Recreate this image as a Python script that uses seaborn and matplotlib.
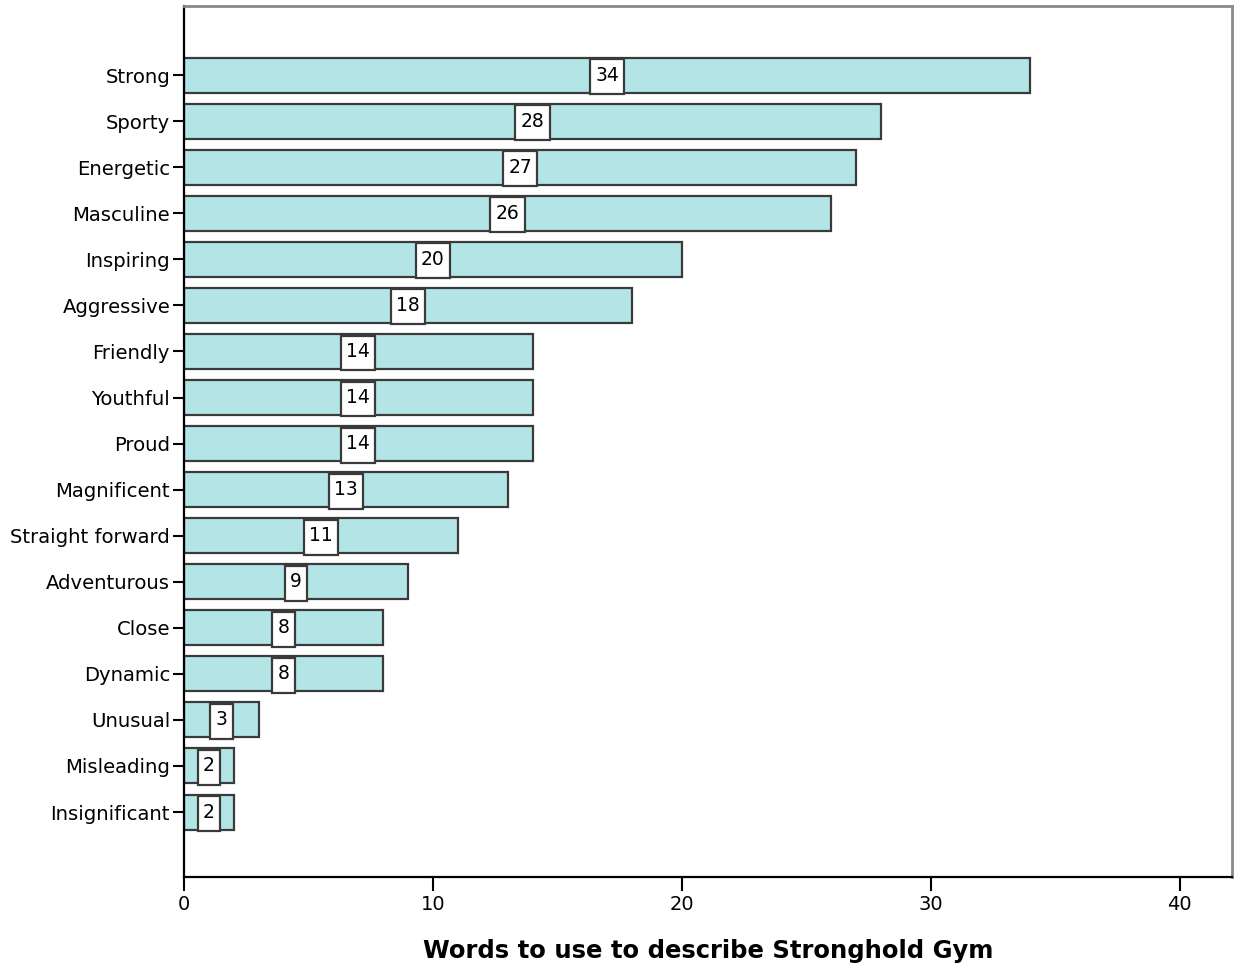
import matplotlib
matplotlib.use("Agg")
import matplotlib.pyplot as plt
from matplotlib.path import Path
import seaborn as sns
import pandas as pd

words = ["Strong", "Sporty", "Energetic", "Masculine", "Inspiring", "Aggressive",
         "Friendly", "Youthful", "Proud", "Magnificent", "Straight forward",
         "Adventurous", "Close", "Dynamic", "Unusual", "Misleading", "Insignificant"]
counts = [34, 28, 27, 26, 20, 18, 14, 14, 14, 13, 11, 9, 8, 8, 3, 2, 2]
x_ticks = [0, 10, 20, 30, 40]
x_title = "Words to use to describe Stronghold Gym"

BAR_FILL = "#b3e5e6"
BAR_EDGE = "#3a3a3a"
FRAME_GREY = "#8a8a8a"

sns.set_style("white")
plt.rcParams["font.family"] = ["DejaVu Sans"]
plt.rcParams["text.color"] = "black"
plt.rcParams["axes.labelcolor"] = "black"
plt.rcParams["xtick.color"] = "black"
plt.rcParams["ytick.color"] = "black"

df = pd.DataFrame({"word": words, "count": counts})

fig = plt.figure(figsize=(12.34, 9.69), dpi=100)
ax = fig.add_axes([184 / 1234, 1 - 877 / 969, (1232 - 184) / 1234, (877 - 6) / 969])

sns.barplot(data=df, x="count", y="word", orient="h", color=BAR_FILL,
            saturation=1, edgecolor=BAR_EDGE, linewidth=1.6, width=0.76, ax=ax)


def label_box(x0, y0, width, height, mutation_size):
    # rectangle hugging the digits horizontally, as tall as a bar
    padx = 0.28 * mutation_size
    cy = y0 + height / 2
    half_h = 0.93 * mutation_size
    l, r = x0 - padx, x0 + width + padx
    b, t = cy - half_h - 1.5, cy + half_h - 1.5
    return Path([(l, b), (r, b), (r, t), (l, t), (l, b)], closed=True)


for i, v in enumerate(counts):
    ax.text(v / 2, i, str(v), ha="center", va="center", fontsize=13.5, color="black",
            bbox=dict(boxstyle=label_box, facecolor="white", edgecolor=BAR_EDGE,
                      linewidth=1.6), zorder=5)

ax.set_xlim(0, 42.1)
ax.set_ylim(len(words) - 1 + 1.41, -1.5)
ax.set_xticks(x_ticks)
ax.set_xticklabels([str(t) for t in x_ticks])
ax.set_ylabel("")
ax.set_xlabel(x_title, fontsize=17.5, fontweight="bold", labelpad=18, color="black")

ax.tick_params(axis="y", which="major", left=True, length=8, width=1.5,
               color="black", labelcolor="black", labelsize=14.1, pad=2)
ax.tick_params(axis="x", which="major", bottom=True, length=10, width=1.5,
               color="black", labelcolor="black", labelsize=14, pad=3)

for side in ("left", "bottom"):
    ax.spines[side].set_color("black")
    ax.spines[side].set_linewidth(1.6)
for side in ("top", "right"):
    ax.spines[side].set_visible(True)
    ax.spines[side].set_color(FRAME_GREY)
    ax.spines[side].set_linewidth(2)

fig.savefig("out.png", dpi=100, facecolor="white")
